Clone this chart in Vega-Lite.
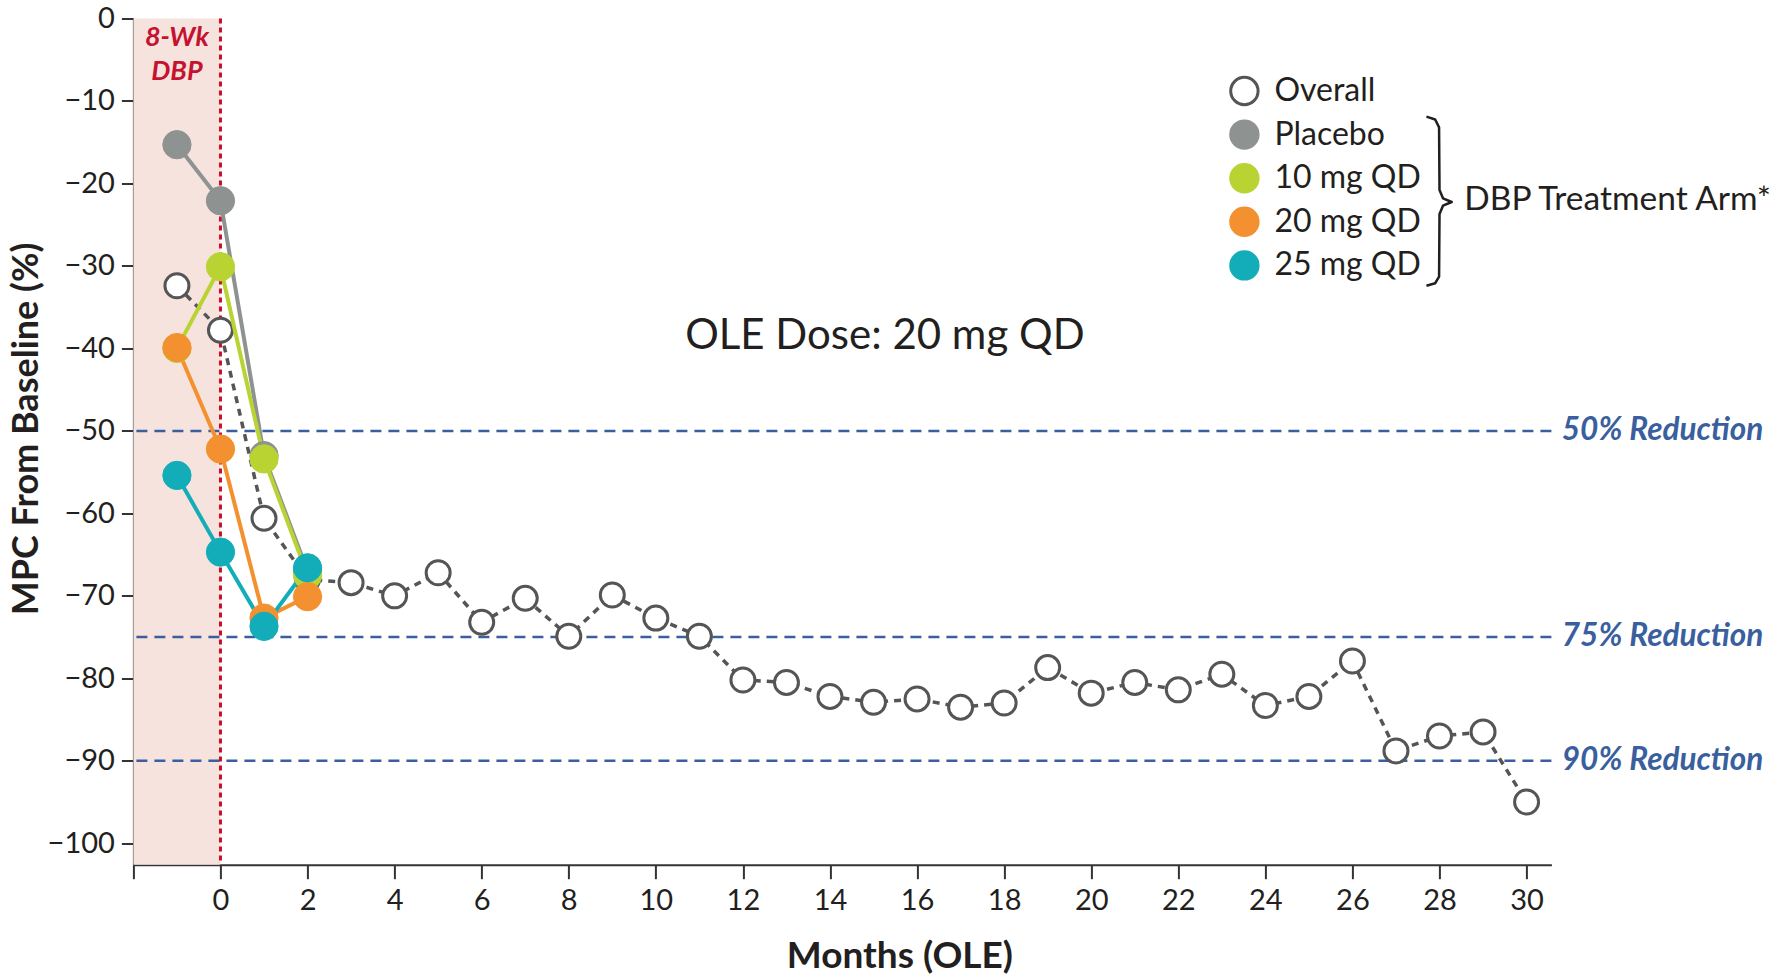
{
  "$schema": "https://vega.github.io/schema/vega-lite/v6.json",
  "width": 1418,
  "height": 846.2,
  "autosize": "none",
  "padding": {"left": 133.4, "top": 18.5, "right": 220.6, "bottom": 110.3},
  "background": "white",
  "config": {
    "view": {"stroke": null},
    "font": "Lato",
    "axis": {"grid": false}
  },
  "datasets": {
    "series": [
      {"series": "Overall", "month": -1, "mpc": -32.4},
      {"series": "Overall", "month": 0, "mpc": -37.8},
      {"series": "Overall", "month": 1, "mpc": -60.6},
      {"series": "Overall", "month": 2, "mpc": -68.0},
      {"series": "Overall", "month": 3, "mpc": -68.4},
      {"series": "Overall", "month": 4, "mpc": -70.0},
      {"series": "Overall", "month": 5, "mpc": -67.2},
      {"series": "Overall", "month": 6, "mpc": -73.2},
      {"series": "Overall", "month": 7, "mpc": -70.3},
      {"series": "Overall", "month": 8, "mpc": -74.9},
      {"series": "Overall", "month": 9, "mpc": -69.9},
      {"series": "Overall", "month": 10, "mpc": -72.7},
      {"series": "Overall", "month": 11, "mpc": -74.9},
      {"series": "Overall", "month": 12, "mpc": -80.2},
      {"series": "Overall", "month": 13, "mpc": -80.5},
      {"series": "Overall", "month": 14, "mpc": -82.2},
      {"series": "Overall", "month": 15, "mpc": -82.9},
      {"series": "Overall", "month": 16, "mpc": -82.5},
      {"series": "Overall", "month": 17, "mpc": -83.5},
      {"series": "Overall", "month": 18, "mpc": -83.0},
      {"series": "Overall", "month": 19, "mpc": -78.7},
      {"series": "Overall", "month": 20, "mpc": -81.8},
      {"series": "Overall", "month": 21, "mpc": -80.5},
      {"series": "Overall", "month": 22, "mpc": -81.4},
      {"series": "Overall", "month": 23, "mpc": -79.5},
      {"series": "Overall", "month": 24, "mpc": -83.3},
      {"series": "Overall", "month": 25, "mpc": -82.2},
      {"series": "Overall", "month": 26, "mpc": -77.9},
      {"series": "Overall", "month": 27, "mpc": -88.8},
      {"series": "Overall", "month": 28, "mpc": -87.0},
      {"series": "Overall", "month": 29, "mpc": -86.5},
      {"series": "Overall", "month": 30, "mpc": -95.0},
      {"series": "Placebo", "month": -1, "mpc": -15.3},
      {"series": "Placebo", "month": 0, "mpc": -22.1},
      {"series": "Placebo", "month": 1, "mpc": -53.0},
      {"series": "Placebo", "month": 2, "mpc": -67.0},
      {"series": "10 mg QD", "month": -1, "mpc": -40.0},
      {"series": "10 mg QD", "month": 0, "mpc": -30.1},
      {"series": "10 mg QD", "month": 1, "mpc": -53.4},
      {"series": "10 mg QD", "month": 2, "mpc": -67.5},
      {"series": "20 mg QD", "month": -1, "mpc": -39.9},
      {"series": "20 mg QD", "month": 0, "mpc": -52.2},
      {"series": "20 mg QD", "month": 1, "mpc": -72.7},
      {"series": "20 mg QD", "month": 2, "mpc": -70.1},
      {"series": "25 mg QD", "month": -1, "mpc": -55.4},
      {"series": "25 mg QD", "month": 0, "mpc": -64.7},
      {"series": "25 mg QD", "month": 1, "mpc": -73.7},
      {"series": "25 mg QD", "month": 2, "mpc": -66.6}
    ],
    "thresholds": [
      {"mpc": -50, "label": "50% Reduction"},
      {"mpc": -75, "label": "75% Reduction"},
      {"mpc": -90, "label": "90% Reduction"}
    ],
    "brace": [
      {"i": 1, "month": 27.70, "mpc": -11.9},
      {"i": 2, "month": 27.90, "mpc": -12.25},
      {"i": 3, "month": 27.99, "mpc": -13.2},
      {"i": 4, "month": 28.00, "mpc": -20.8},
      {"i": 5, "month": 28.08, "mpc": -21.8},
      {"i": 6, "month": 28.28, "mpc": -22.25},
      {"i": 7, "month": 28.08, "mpc": -22.7},
      {"i": 8, "month": 28.00, "mpc": -23.7},
      {"i": 9, "month": 27.99, "mpc": -31.3},
      {"i": 10, "month": 27.90, "mpc": -32.1},
      {"i": 11, "month": 27.70, "mpc": -32.4}
    ]
  },
  "layer": [
    {
      "data": {"values": [{"month": -2, "month2": 0, "mpc": -102.6, "mpc2": 0}]},
      "mark": {"type": "rect", "color": "#f6e3dd"},
      "encoding": {
        "x": {
          "field": "month", "type": "quantitative",
          "scale": {"domain": [-2, 30.57], "nice": false, "zero": false},
          "axis": {
            "title": "Months (OLE)",
            "values": [-2, 0, 2, 4, 6, 8, 10, 12, 14, 16, 18, 20, 22, 24, 26, 28, 30],
            "labelExpr": "datum.value < 0 ? '' : datum.label",
            "tickSize": 14, "tickWidth": 2, "domainWidth": 2,
            "domainColor": "#333333", "tickColor": "#333333",
            "labelFontSize": 29, "labelColor": "#231f20", "labelPadding": 8,
            "labelFlush": false,
            "titleFontSize": 37, "titleFontWeight": "bold", "titleColor": "#231f20",
            "titleX": 766, "titleY": 92, "titleBaseline": "middle", "titleAlign": "center",
            "grid": false
          }
        },
        "x2": {"field": "month2"},
        "y": {
          "field": "mpc", "type": "quantitative",
          "scale": {"domain": [-102.6, 0], "nice": false, "zero": false},
          "axis": {
            "title": "MPC From Baseline (%)",
            "values": [0, -10, -20, -30, -40, -50, -60, -70, -80, -90, -100],
            "tickSize": 12, "tickWidth": 2, "domainWidth": 2,
            "domainColor": "#333333", "tickColor": "#333333",
            "labelFontSize": 29, "labelColor": "#231f20", "labelPadding": 7,
            "labelFlush": false,
            "titleFontSize": 36, "titleFontWeight": "bold", "titleColor": "#231f20",
            "titleX": -107, "titleY": 410, "titleBaseline": "middle", "titleAlign": "center",
            "grid": false
          }
        },
        "y2": {"field": "mpc2"}
      }
    },
    {
      "data": {"name": "thresholds"},
      "mark": {"type": "rule", "color": "#3a5f9e", "strokeDash": [11, 7], "strokeWidth": 2.5},
      "encoding": {"y": {"field": "mpc", "type": "quantitative"}}
    },
    {
      "data": {"name": "thresholds"},
      "mark": {"type": "text", "align": "left", "baseline": "middle", "fontSize": 31.5, "fontWeight": "bold", "fontStyle": "italic", "color": "#3a5f9e"},
      "encoding": {
        "x": {"datum": 30.81, "type": "quantitative"},
        "y": {"field": "mpc", "type": "quantitative"},
        "text": {"field": "label"}
      }
    },
    {
      "data": {"values": [{"month": 0}]},
      "mark": {"type": "rule", "color": "#c8102e", "strokeDash": [5, 4], "strokeWidth": 3},
      "encoding": {"x": {"field": "month", "type": "quantitative"}}
    },
    {
      "data": {"values": [{"t": 1}]},
      "mark": {"type": "text", "text": ["8-Wk", "DBP"], "lineHeight": 34, "align": "center", "baseline": "middle", "fontSize": 27, "fontWeight": "bold", "fontStyle": "italic", "color": "#c41230"},
      "encoding": {
        "x": {"datum": -1, "type": "quantitative"},
        "y": {"datum": -2.4, "type": "quantitative"}
      }
    },
    {
      "data": {"values": [{"t": 1}]},
      "mark": {"type": "text", "text": "OLE Dose: 20 mg QD", "align": "center", "baseline": "middle", "fontSize": 42, "color": "#231f20"},
      "encoding": {
        "x": {"datum": 15.26, "type": "quantitative"},
        "y": {"datum": -38.5, "type": "quantitative"}
      }
    },
    {
      "data": {"values": [{"t": 1}]},
      "mark": {"type": "text", "text": "DBP Treatment Arm*", "align": "left", "baseline": "middle", "fontSize": 33.5, "color": "#231f20"},
      "encoding": {
        "x": {"datum": 28.57, "type": "quantitative"},
        "y": {"datum": -22.0, "type": "quantitative"}
      }
    },
    {
      "data": {"name": "brace"},
      "mark": {"type": "line", "color": "#231f20", "strokeWidth": 2.5, "strokeJoin": "round"},
      "encoding": {
        "x": {"field": "month", "type": "quantitative"},
        "y": {"field": "mpc", "type": "quantitative"},
        "order": {"field": "i", "type": "quantitative"}
      }
    },
    {
      "data": {"name": "series"},
      "transform": [{"filter": "datum.series === 'Overall'"}],
      "mark": {"type": "line", "color": "#555555", "strokeWidth": 3.5, "strokeDash": [7, 6]},
      "encoding": {
        "x": {"field": "month", "type": "quantitative"},
        "y": {"field": "mpc", "type": "quantitative"}
      }
    },
    {
      "data": {"name": "series"},
      "transform": [{"filter": "datum.series === 'Overall'"}],
      "mark": {"type": "point", "shape": "circle", "filled": true, "size": 576, "strokeWidth": 3, "opacity": 1},
      "encoding": {
        "x": {"field": "month", "type": "quantitative"},
        "y": {"field": "mpc", "type": "quantitative"},
        "fill": {
          "field": "series", "type": "nominal",
          "scale": {"domain": ["Overall", "Placebo", "10 mg QD", "20 mg QD", "25 mg QD"], "range": ["#ffffff", "#8e9392", "#b9d432", "#f39130", "#13adba"]},
          "legend": {"title": null, "orient": "none", "legendX": 1095, "legendY": 56.5, "labelFontSize": 32, "labelColor": "#231f20", "symbolSize": 750, "symbolStrokeWidth": 3, "rowPadding": 3.6, "labelOffset": 14, "symbolType": "circle", "labelFont": "Lato"}
        },
        "stroke": {
          "field": "series", "type": "nominal",
          "scale": {"domain": ["Overall", "Placebo", "10 mg QD", "20 mg QD", "25 mg QD"], "range": ["#555555", "#8e9392", "#b9d432", "#f39130", "#13adba"]},
          "legend": {"title": null, "orient": "none", "legendX": 1095, "legendY": 56.5, "labelFontSize": 32, "labelColor": "#231f20", "symbolSize": 750, "symbolStrokeWidth": 3, "rowPadding": 3.6, "labelOffset": 14, "symbolType": "circle", "labelFont": "Lato"}
        }
      }
    },
    {
      "data": {"name": "series"},
      "transform": [{"filter": "datum.series !== 'Overall'"}],
      "mark": {"type": "line", "strokeWidth": 4},
      "encoding": {
        "x": {"field": "month", "type": "quantitative"},
        "y": {"field": "mpc", "type": "quantitative"},
        "color": {
          "field": "series", "type": "nominal",
          "scale": {"domain": ["Placebo", "10 mg QD", "20 mg QD", "25 mg QD"], "range": ["#8e9392", "#b9d432", "#f39130", "#13adba"]},
          "legend": null
        }
      }
    },
    {
      "data": {"name": "series"},
      "transform": [{"filter": "datum.series !== 'Overall'"}],
      "mark": {"type": "point", "shape": "circle", "filled": true, "size": 800, "strokeWidth": 1, "opacity": 1},
      "encoding": {
        "x": {"field": "month", "type": "quantitative"},
        "y": {"field": "mpc", "type": "quantitative"},
        "fill": {"field": "series", "type": "nominal"},
        "stroke": {"field": "series", "type": "nominal"}
      }
    }
  ]
}
